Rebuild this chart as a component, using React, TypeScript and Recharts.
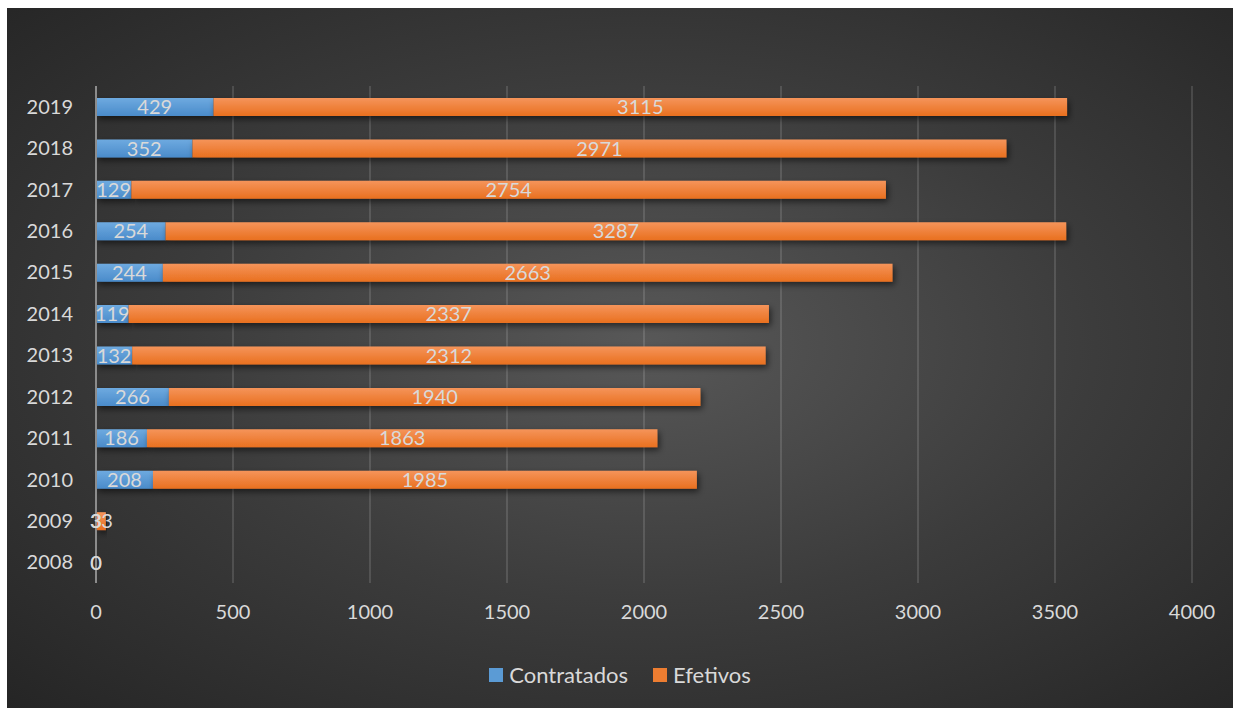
import React from "react";
import {
  BarChart,
  Bar,
  XAxis,
  YAxis,
  CartesianGrid,
  LabelList,
  Legend,
} from "recharts";

const years = ["2008", "2009", "2010", "2011", "2012", "2013", "2014", "2015", "2016", "2017", "2018", "2019"];
const contratados = [0, 3, 208, 186, 266, 132, 119, 244, 254, 129, 352, 429];
const efetivos = [0, 33, 1985, 1863, 1940, 2312, 2337, 2663, 3287, 2754, 2971, 3115];
const xTicks = [0, 500, 1000, 1500, 2000, 2500, 3000, 3500, 4000];

const data = years.map((year, i) => ({
  year,
  contratados: contratados[i],
  efetivos: efetivos[i],
}));

const FONT = "Lato, 'Open Sans', sans-serif";
const TEXT = "#d9d9d9";

function LegendContent() {
  const items = [
    { label: "Contratados", color: "#5b9bd5" },
    { label: "Efetivos", color: "#ed7d31" },
  ];
  return (
    <div
      style={{
        height: 50,
        display: "flex",
        justifyContent: "center",
        alignItems: "flex-end",
        gap: 25,
        fontFamily: FONT,
        fontSize: 22,
        color: TEXT,
      }}
    >
      {items.map((it) => (
        <div key={it.label} style={{ display: "flex", alignItems: "center" }}>
          <span
            style={{
              width: 14,
              height: 14,
              background: it.color,
              display: "inline-block",
              marginRight: 6,
            }}
          />
          {it.label}
        </div>
      ))}
    </div>
  );
}

export default function App() {
  return (
    <div
      style={{
        position: "absolute",
        left: 7,
        top: 8,
        width: 1226,
        height: 700,
        background:
          "radial-gradient(ellipse farthest-corner at 52% 48%, #585858 0%, #3c3c3c 50%, #252525 100%)",
      }}
    >
      <BarChart
        width={1226}
        height={700}
        data={data}
        layout="vertical"
        margin={{ top: 78, right: 41, left: 0, bottom: 20 }}
        barSize={18}
      >
        <defs>
          <linearGradient id="blueGrad" x1="0" y1="0" x2="0" y2="1">
            <stop offset="0%" stopColor="#6eaae0" />
            <stop offset="100%" stopColor="#4a8bca" />
          </linearGradient>
          <linearGradient id="orangeGrad" x1="0" y1="0" x2="0" y2="1">
            <stop offset="0%" stopColor="#f5945a" />
            <stop offset="100%" stopColor="#e9701f" />
          </linearGradient>
          <filter id="barShadow" x="-10%" y="-50%" width="120%" height="250%">
            <feDropShadow dx="2" dy="3" stdDeviation="3" floodColor="#000" floodOpacity="0.55" />
          </filter>
        </defs>
        <CartesianGrid
          horizontal={false}
          stroke="rgba(255,255,255,0.13)"
          strokeWidth={2}
        />
        <XAxis
          type="number"
          domain={[0, 4000]}
          ticks={xTicks}
          axisLine={false}
          tickLine={false}
          tickSize={0}
          tickMargin={22}
          height={55}
          tick={{ fill: TEXT, fontSize: 20, fontFamily: FONT }}
        />
        <YAxis
          type="category"
          dataKey="year"
          reversed
          width={89}
          axisLine={{ stroke: "#8c8c8c", strokeWidth: 2 }}
          tickLine={false}
          tickSize={0}
          tickMargin={23}
          tick={{ fill: TEXT, fontSize: 20, fontFamily: FONT }}
        />
        <Legend
          content={<LegendContent />}
          verticalAlign="bottom"
          wrapperStyle={{ left: 0, width: 1226 }}
        />
        <Bar
          dataKey="contratados"
          name="Contratados"
          stackId="a"
          fill="url(#blueGrad)"
          filter="url(#barShadow)"
          minPointSize={0.01}
          isAnimationActive={false}
        >
          <LabelList
            dataKey="contratados"
            position="center"
            fill={TEXT}
            style={{ fontSize: 20, fontFamily: FONT }}
          />
        </Bar>
        <Bar
          dataKey="efetivos"
          name="Efetivos"
          stackId="a"
          fill="url(#orangeGrad)"
          filter="url(#barShadow)"
          minPointSize={0.01}
          isAnimationActive={false}
        >
          <LabelList
            dataKey="efetivos"
            position="center"
            fill={TEXT}
            style={{ fontSize: 20, fontFamily: FONT }}
          />
        </Bar>
      </BarChart>
    </div>
  );
}
